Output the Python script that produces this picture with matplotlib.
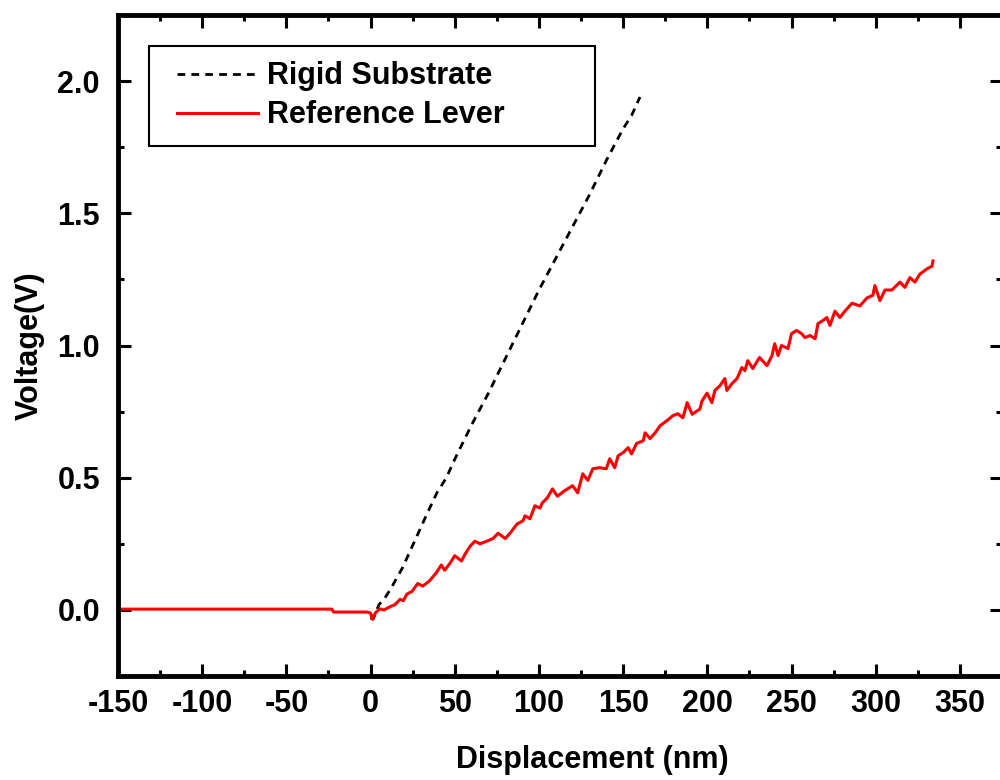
import matplotlib
matplotlib.use('Agg')
import matplotlib.pyplot as plt
from matplotlib.patches import Rectangle

plt.rcParams['font.family'] = ['Liberation Sans', 'DejaVu Sans']
plt.rcParams['font.weight'] = 'bold'

# rigid substrate (dashed black)
rigid_x = [0, 1.5, 5, 8.5, 12, 19, 24, 29, 34, 39.4, 45, 50, 60, 70, 80, 90, 100,
           110, 120, 130, 140, 150, 155, 160]
rigid_v = [-0.03, -0.035, 0.02, 0.045, 0.08, 0.16, 0.23, 0.30, 0.37, 0.443, 0.50, 0.57,
           0.70, 0.82, 0.95, 1.08, 1.21, 1.33, 1.45, 1.57, 1.70, 1.82, 1.87, 1.94]

# reference lever (red)
lever_x = [-150, -23, -22, -2, 0, 1, 3, 5.6, 8, 11.5, 14.5, 17.5, 19.5, 21.6, 24.6, 28,
           31, 35, 39, 42, 44, 47, 50, 54, 56, 59, 62, 65, 69, 72.7, 75.7, 80, 82.8,
           87, 90.5, 91.7, 94.7, 97.6, 100.6, 102, 105, 108, 111, 115, 120, 123, 126,
           129, 132, 136, 140, 142, 145, 147, 150, 153, 155, 158, 162, 163, 166, 169,
           172, 176, 179.6, 182.5, 185.5, 188, 191, 195.6, 196.8, 199.8, 202.7, 204.5,
           207.5, 210.4, 211.6, 214.6, 217.6, 220.5, 222.3, 224, 227, 231, 235.4, 238.4,
           240, 242, 244, 247.9, 250, 253, 256, 258, 261, 264, 265.7, 268.7, 271, 272.8,
           275.8, 278.7, 281.7, 285.9, 290.6, 294.8, 298.3, 299.5, 302.5, 305.5, 309.6,
           314.4, 317.3, 320.3, 323.3, 326.2, 330.4, 333.4, 334]
lever_v = [0.003, 0.003, -0.008, -0.008, -0.012, -0.035, -0.01, 0.004, 0.0, 0.012, 0.02,
           0.04, 0.035, 0.06, 0.07, 0.1, 0.09, 0.11, 0.14, 0.17, 0.15, 0.175, 0.205,
           0.185, 0.21, 0.24, 0.26, 0.25, 0.26, 0.27, 0.29, 0.27, 0.29, 0.325, 0.337,
           0.356, 0.345, 0.394, 0.385, 0.405, 0.424, 0.458, 0.43, 0.45, 0.47, 0.443,
           0.515, 0.49, 0.534, 0.538, 0.534, 0.572, 0.538, 0.583, 0.595, 0.614, 0.59,
           0.63, 0.64, 0.67, 0.648, 0.67, 0.697, 0.716, 0.735, 0.742, 0.727, 0.784, 0.74,
           0.76, 0.79, 0.82, 0.784, 0.83, 0.848, 0.875, 0.83, 0.856, 0.875, 0.917, 0.905,
           0.943, 0.913, 0.955, 0.924, 0.962, 1.007, 0.962, 1.0, 0.989, 1.045, 1.057,
           1.045, 1.03, 1.038, 1.026, 1.083, 1.095, 1.106, 1.076, 1.13, 1.106, 1.13, 1.16,
           1.15, 1.18, 1.19, 1.227, 1.17, 1.21, 1.21, 1.24, 1.22, 1.257, 1.24, 1.27,
           1.29, 1.30, 1.32]

x_ticks = [-150, -100, -50, 0, 50, 100, 150, 200, 250, 300, 350]
y_ticks = [0.0, 0.5, 1.0, 1.5, 2.0]

fig = plt.figure(figsize=(10, 7.8), dpi=100)
ax = fig.add_axes([0.118, 0.1333, 0.884, 0.8474])

ax.plot(rigid_x, rigid_v, color='black', lw=2, ls=(0, (2.8, 2.2)), label='Rigid Substrate')
ax.plot(lever_x, lever_v, color='red', lw=2.2, label='Reference Lever')

ax.set_xlim(-150, 375)
ax.set_ylim(-0.25, 2.25)
ax.set_xticks(x_ticks)
ax.set_xticks([v + 25 for v in x_ticks], minor=True)
ax.set_yticks(y_ticks)
ax.set_yticks([-0.25, 0.25, 0.75, 1.25, 1.75, 2.25], minor=True)
ax.set_xticklabels([str(v) for v in x_ticks])
ax.set_yticklabels(['%.1f' % v for v in y_ticks])

for s in ax.spines.values():
    s.set_linewidth(3.5)
ax.tick_params(which='both', direction='in', top=True, right=True, labelsize=22)
ax.tick_params(which='major', length=9, width=2.2)
ax.tick_params(which='minor', length=4.5, width=2.2)
ax.tick_params(axis='x', pad=9)
ax.tick_params(axis='y', pad=13)

ax.set_xlabel('Displacement (nm)', fontsize=22, fontweight='bold')
ax.set_ylabel('Voltage(V)', fontsize=22, fontweight='bold')
ax.xaxis.set_label_coords(0.536, -0.104)
ax.yaxis.set_label_coords(-0.083, 0.5)

# legend box drawn separately (it has wide right padding)
ax.add_patch(Rectangle((0.035, 0.802), 0.505, 0.151, transform=ax.transAxes,
                       facecolor='white', edgecolor='black', lw=1.5, zorder=4))
leg = ax.legend(loc='upper left', bbox_to_anchor=(0.0667, 0.930), fontsize=22,
                frameon=False, handlelength=2.65, handletextpad=0.3,
                labelspacing=0.3, borderpad=0, borderaxespad=0)
leg.set_zorder(5)

fig.savefig('out.png', dpi=100)
plt.close()
